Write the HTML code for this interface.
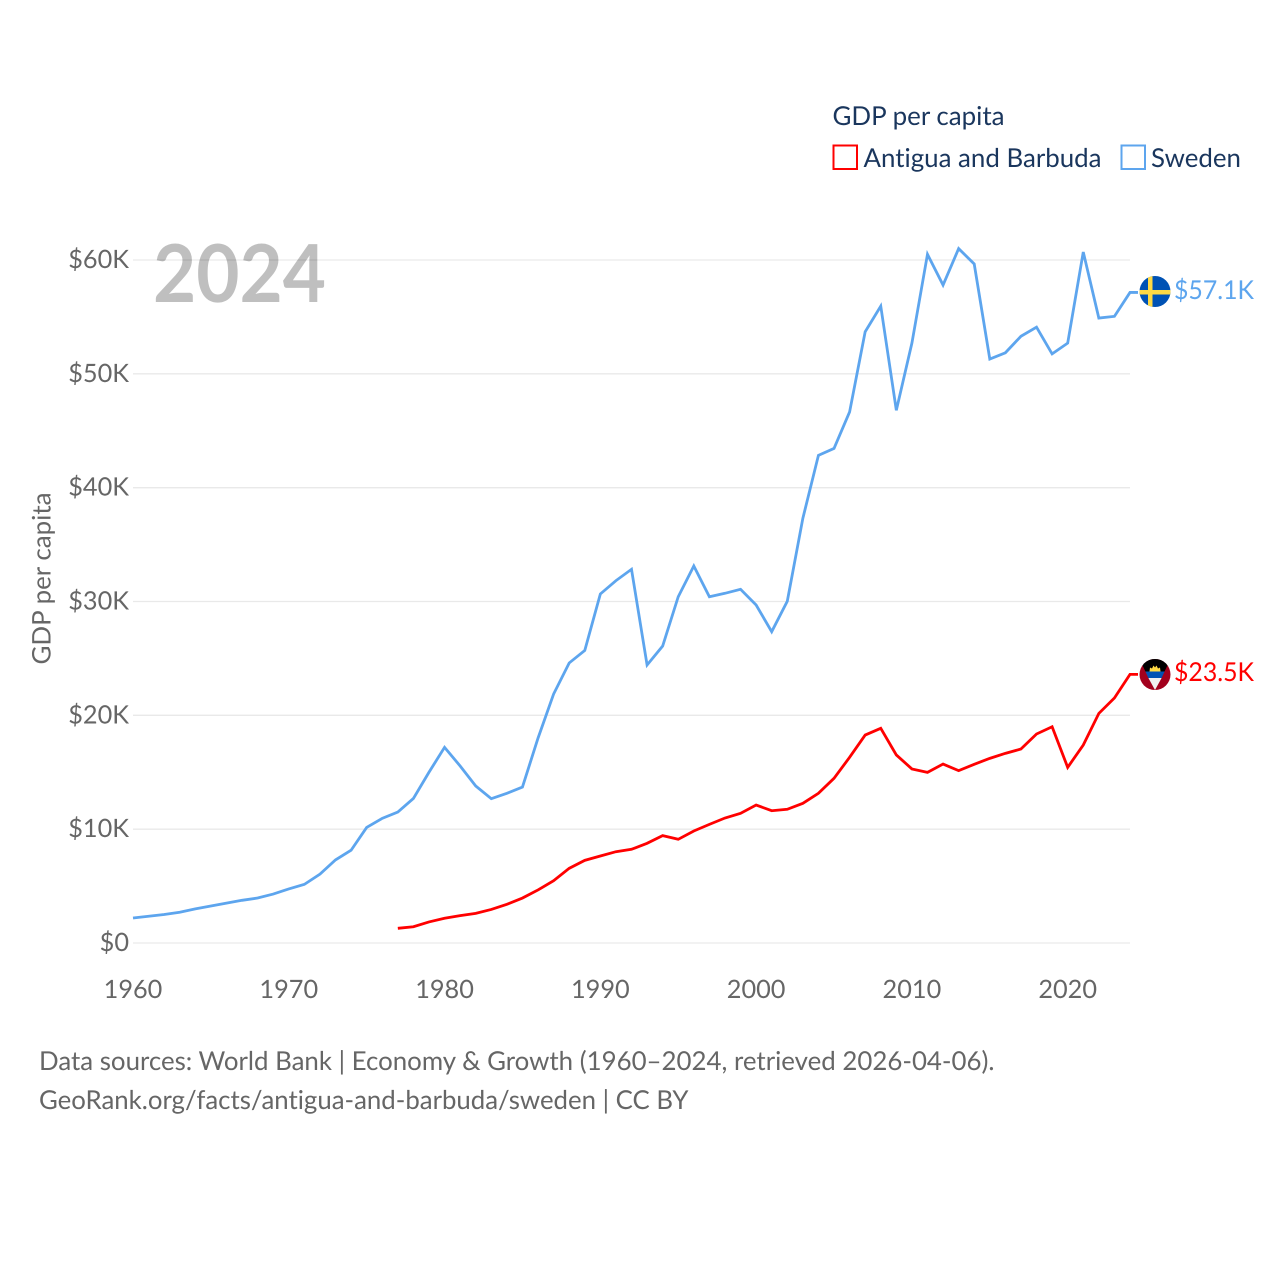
<!DOCTYPE html>
<html lang="en">
<head>
<meta charset="utf-8">
<title>GDP per capita: Antigua and Barbuda vs Sweden</title>
<style>
html,body{margin:0;padding:0;background:#fff;width:1280px;height:1280px;overflow:hidden}
svg{display:block}
text{font-family:"Lato","Carlito","Liberation Sans",sans-serif;font-variant-ligatures:none;text-rendering:geometricPrecision}
</style>
</head>
<body>
<svg id="chart" xmlns="http://www.w3.org/2000/svg" width="1280" height="1280" viewBox="0 0 1280 1280">
  <rect x="0" y="0" width="1280" height="1280" fill="#ffffff"/>
  <g id="grid"></g>
  <g id="yticks"></g>
  <g id="xticks"></g>
  <text transform="translate(50.5,664.5) rotate(-90)" font-size="25.6" fill="#666666" textLength="172" lengthAdjust="spacingAndGlyphs">GDP per capita</text>
  <text x="153" y="302" font-size="80" font-weight="700" fill="#000000" fill-opacity="0.25" textLength="173" lengthAdjust="spacingAndGlyphs">2024</text>
  <g id="series"></g>

  <g>
    <text x="832.5" y="125" font-size="26" fill="#1a365d" textLength="172" lengthAdjust="spacingAndGlyphs">GDP per capita</text>
    <g>
      <rect x="833.5" y="145.5" width="23.5" height="23.5" fill="#ffffff" stroke="#ff0000" stroke-width="2"/>
      <text x="863.5" y="167" font-size="26" fill="#1a365d" textLength="238" lengthAdjust="spacingAndGlyphs">Antigua and Barbuda</text>
    </g>
    <g>
      <rect x="1121.5" y="145.5" width="23.5" height="23.5" fill="#ffffff" stroke="#5da5ee" stroke-width="2"/>
      <text x="1151" y="167" font-size="26" fill="#1a365d" textLength="90" lengthAdjust="spacingAndGlyphs">Sweden</text>
    </g>
  </g>

  <defs>
    <clipPath id="flag-clip-se"><circle cx="1155" cy="291.5" r="15.5"/></clipPath>
    <clipPath id="flag-clip-ag"><circle cx="1155" cy="674.5" r="15.5"/></clipPath>
  </defs>
  <g clip-path="url(#flag-clip-se)">
    <rect x="1139" y="275" width="32" height="33" fill="#0052b4"/>
    <rect x="1148" y="275" width="4.5" height="33" fill="#ffda44"/>
    <rect x="1139" y="290" width="32" height="4.5" fill="#ffda44"/>
  </g>
  <g clip-path="url(#flag-clip-ag)">
    <rect x="1139" y="658" width="32" height="33" fill="#a2001d"/>
    <polygon points="1141,658 1169,658 1169,662 1164.6,671.5 1145.4,671.5 1141,662" fill="#000000"/>
    <polygon points="1145.4,671.5 1164.6,671.5 1161.6,678 1148.4,678" fill="#0052b4"/>
    <polygon points="1148.4,678 1161.6,678 1155,690" fill="#f0f0f0"/>
    <path d="M1149.5,671.5 L1150,667.5 L1152,668.5 L1153.5,665.5 L1155,667.5 L1156.5,665.5 L1158,668.5 L1160,667.5 L1160.5,671.5 Z" fill="#ffda44"/>
  </g>

  <text x="1174" y="299" font-size="26" fill="#5da5ee" textLength="80" lengthAdjust="spacingAndGlyphs">$57.1K</text>
  <text x="1174" y="681" font-size="26" fill="#ff0000" textLength="80" lengthAdjust="spacingAndGlyphs">$23.5K</text>

  <text x="39" y="1070" font-size="26" fill="#666666" textLength="955.5" lengthAdjust="spacingAndGlyphs">Data sources: World Bank | Economy &amp; Growth (1960–2024, retrieved 2026-04-06).</text>
  <text x="39" y="1109" font-size="26" fill="#666666" textLength="649.5" lengthAdjust="spacingAndGlyphs">GeoRank.org/facts/antigua-and-barbuda/sweden | CC BY</text>
</svg>

<script>
var yTickValues = [0, 10, 20, 30, 40, 50, 60];
var yTickLabels = ["$0", "$10K", "$20K", "$30K", "$40K", "$50K", "$60K"];
var xTickYears = [1960, 1970, 1980, 1990, 2000, 2010, 2020];
var xTickLabels = ["1960", "1970", "1980", "1990", "2000", "2010", "2020"];
var swedenStartYear = 1960;
var swedenValues = [2.2, 2.35, 2.5, 2.7, 3.0, 3.25, 3.5, 3.75, 3.95, 4.3, 4.75, 5.15, 6.05, 7.3, 8.15, 10.15, 10.95, 11.5, 12.7, 15.0, 17.19, 15.55, 13.79, 12.68, 13.15, 13.7, 18.0, 21.87, 24.6, 25.7, 30.66, 31.83, 32.83, 24.42, 26.09, 30.42, 33.12, 30.42, 30.72, 31.07, 29.69, 27.35, 30.02, 37.31, 42.84, 43.45, 46.65, 53.7, 55.95, 46.8, 52.7, 60.5, 57.8, 61.0, 59.65, 51.3, 51.85, 53.3, 54.1, 51.75, 52.7, 60.7, 54.9, 55.05, 57.15];
var antiguaStartYear = 1977;
var antiguaValues = [1.29, 1.43, 1.85, 2.17, 2.4, 2.6, 2.95, 3.4, 3.95, 4.66, 5.47, 6.56, 7.26, 7.64, 8.02, 8.23, 8.76, 9.43, 9.11, 9.84, 10.42, 10.98, 11.39, 12.12, 11.62, 11.75, 12.27, 13.15, 14.47, 16.31, 18.27, 18.86, 16.52, 15.29, 14.99, 15.72, 15.14, 15.7, 16.22, 16.66, 17.04, 18.36, 19.0, 15.43, 17.39, 20.17, 21.52, 23.6];

var SVG_NS = "http://www.w3.org/2000/svg";
var plotLeft = 133, plotRight = 1130, plotBottom = 943, plotTop = 260;
function xScale(year) { return plotLeft + (year - 1960) / (2024 - 1960) * (plotRight - plotLeft); }
function yScale(value) { return plotBottom - value / 60 * (plotBottom - plotTop); }

var gridGroup = document.getElementById("grid");
var yTickGroup = document.getElementById("yticks");
yTickValues.forEach(function (v, i) {
  var line = document.createElementNS(SVG_NS, "line");
  
  
  line.setAttribute("x1", plotLeft);
  line.setAttribute("x2", plotRight);
  line.setAttribute("y1", yScale(v));
  line.setAttribute("y2", yScale(v));
  line.setAttribute("stroke", "#e9e9e9");
  line.setAttribute("stroke-width", "1.3");
  gridGroup.appendChild(line);

  var label = document.createElementNS(SVG_NS, "text");
  
  
  label.setAttribute("x", 129);
  label.setAttribute("y", yScale(v) + 8);
  label.setAttribute("text-anchor", "end");
  label.setAttribute("font-size", "25.3");
  label.setAttribute("fill", "#666666");
  label.textContent = yTickLabels[i];
  yTickGroup.appendChild(label);
});

var xTickGroup = document.getElementById("xticks");
xTickYears.forEach(function (year, i) {
  var label = document.createElementNS(SVG_NS, "text");
  
  
  label.setAttribute("x", xScale(year));
  label.setAttribute("y", 998);
  label.setAttribute("text-anchor", "middle");
  label.setAttribute("font-size", "25.3");
  label.setAttribute("fill", "#666666");
  label.textContent = xTickLabels[i];
  xTickGroup.appendChild(label);
});

function seriesPoints(values, startYear) {
  var pts = values.map(function (v, i) {
    return xScale(startYear + i).toFixed(2) + "," + yScale(v).toFixed(2);
  });
  var last = values[values.length - 1];
  pts.push((xScale(startYear + values.length - 1) + 8).toFixed(2) + "," + yScale(last).toFixed(2));
  return pts.join(" ");
}

var seriesGroup = document.getElementById("series");
var swedenLine = document.createElementNS(SVG_NS, "polyline");


swedenLine.setAttribute("points", seriesPoints(swedenValues, swedenStartYear));
swedenLine.setAttribute("fill", "none");
swedenLine.setAttribute("stroke", "#5da5ee");
swedenLine.setAttribute("stroke-width", "2.8");
swedenLine.setAttribute("stroke-linejoin", "miter");
seriesGroup.appendChild(swedenLine);

var antiguaLine = document.createElementNS(SVG_NS, "polyline");


antiguaLine.setAttribute("points", seriesPoints(antiguaValues, antiguaStartYear));
antiguaLine.setAttribute("fill", "none");
antiguaLine.setAttribute("stroke", "#ff0000");
antiguaLine.setAttribute("stroke-width", "2.8");
antiguaLine.setAttribute("stroke-linejoin", "miter");
seriesGroup.appendChild(antiguaLine);
</script>
</body>
</html>
